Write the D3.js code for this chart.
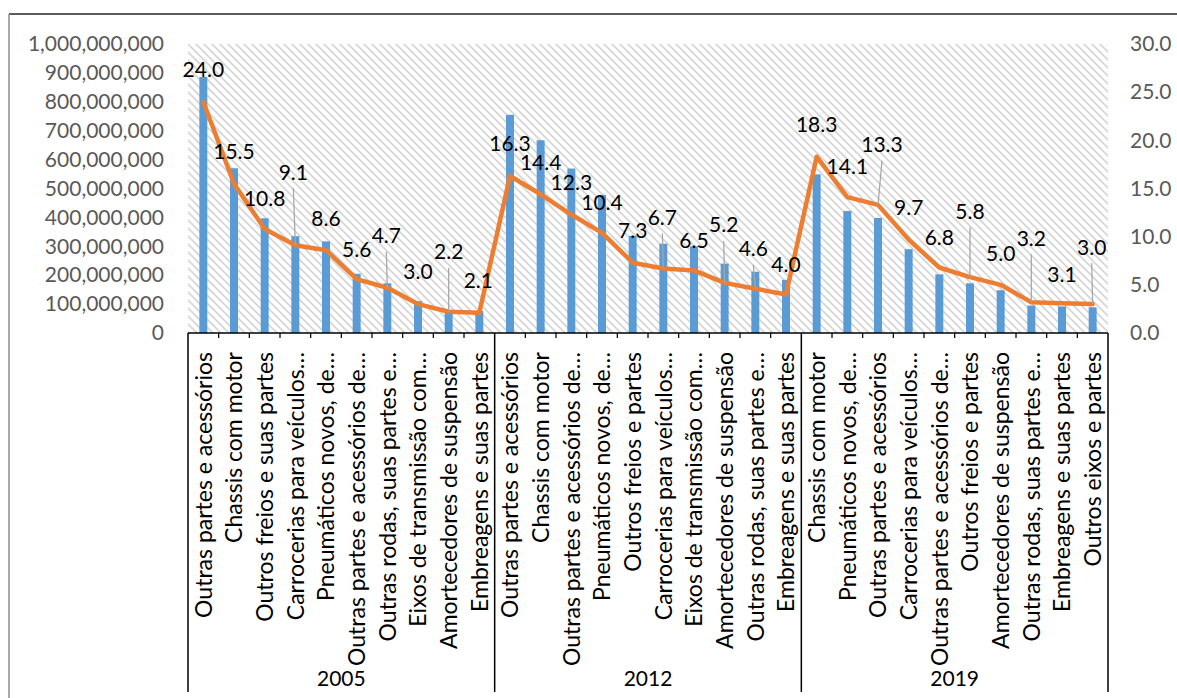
<!DOCTYPE html>
<html>
<head>
<meta charset="utf-8">
<script src="https://cdn.jsdelivr.net/npm/d3@7"></script>
<style>
  body { margin: 0; background: #fff; }
  svg { display: block; }
  text { font-family: Lato, "Noto Sans", sans-serif; }
</style>
</head>
<body>
<svg id="chart" width="1177" height="698"></svg>
<script>
// ---- data ---------------------------------------------------------------
const years = ["2005", "2012", "2019"];

const categories2005 = [
  "Outras partes e acessórios", "Chassis com motor", "Outros freios e suas partes",
  "Carrocerias para veículos…", "Pneumáticos novos, de…", "Outras partes e acessórios de…",
  "Outras rodas, suas partes e…", "Eixos de transmissão com…", "Amortecedores de suspensão",
  "Embreagens e suas partes"
];
const categories2012 = [
  "Outras partes e acessórios", "Chassis com motor", "Outras partes e acessórios de…",
  "Pneumáticos novos, de…", "Outros freios e partes", "Carrocerias para veículos…",
  "Eixos de transmissão com…", "Amortecedores de suspensão", "Outras rodas, suas partes e…",
  "Embreagens e suas partes"
];
const categories2019 = [
  "Chassis com motor", "Pneumáticos novos, de…", "Outras partes e acessórios",
  "Carrocerias para veículos…", "Outras partes e acessórios de…", "Outros freios e partes",
  "Amortecedores de suspensão", "Outras rodas, suas partes e…", "Embreagens e suas partes",
  "Outros eixos e partes"
];

// bar series (left axis)
const value2005 = [886e6, 570e6, 397e6, 335e6, 317e6, 205e6, 172e6, 110e6, 80e6, 76e6];
const value2012 = [755e6, 667e6, 569e6, 478e6, 336e6, 309e6, 300e6, 240e6, 212e6, 184e6];
const value2019 = [549e6, 422e6, 398e6, 290e6, 203e6, 172e6, 148e6, 95e6, 92e6, 89e6];

// line series, share in % (right axis)
const share2005 = [24.0, 15.5, 10.8, 9.1, 8.6, 5.6, 4.7, 3.0, 2.2, 2.1];
const share2012 = [16.3, 14.4, 12.3, 10.4, 7.3, 6.7, 6.5, 5.2, 4.6, 4.0];
const share2019 = [18.3, 14.1, 13.3, 9.7, 6.8, 5.8, 5.0, 3.2, 3.1, 3.0];

const leftTicks = d3.range(0, 1000000001, 100000000);
const rightTicks = [0, 5, 10, 15, 20, 25, 30];

// label placement: lift above the point (px) and horizontal nudge
const labelLift = [
  32, 32, 31, 73, 32, 30, 52, 33, 60, 32,
  33, 32, 32, 30, 32, 51, 30, 58, 40, 30,
  32, 31, 60, 32, 30, 66, 31, 64, 29, 57
];
const labelNudge = [
  0, 0, 0, -2, 0, 0, -1, 0, 0, -1,
  0, 0, 0, 0, 0, -1, 0, -1, -2, 0,
  0, 0, 4, 0, 0, 0, 0, 0, 0, -1
];

// ---- assemble rows ------------------------------------------------------
const groups = [
  { year: years[0], cats: categories2005, vals: value2005, shares: share2005 },
  { year: years[1], cats: categories2012, vals: value2012, shares: share2012 },
  { year: years[2], cats: categories2019, vals: value2019, shares: share2019 }
];
const rows = [];
groups.forEach(g => g.cats.forEach((c, i) => rows.push({
  key: g.year + "|" + i, year: g.year, cat: c, value: g.vals[i], share: g.shares[i]
})));
rows.forEach((r, i) => { r.lift = labelLift[i]; r.nudge = labelNudge[i]; });

// ---- layout -------------------------------------------------------------
const plot = { left: 188, right: 1108, top: 44, bottom: 333 };
const svg = d3.select("#chart");

const x = d3.scaleBand().domain(rows.map(r => r.key)).range([plot.left, plot.right]).padding(0);
const yL = d3.scaleLinear().domain([0, 1000000000]).range([plot.bottom, plot.top]);
const yR = d3.scaleLinear().domain([0, 30]).range([plot.bottom, plot.top]);
const cx = k => x(k) + x.bandwidth() / 2;

// chart frame
svg.append("line").attr("x1", 9).attr("x2", 1177).attr("y1", 14).attr("y2", 14)
  .attr("stroke", "#262626").attr("stroke-width", 1.5);
svg.append("line").attr("x1", 9).attr("x2", 9).attr("y1", 14).attr("y2", 698)
  .attr("stroke", "#8c8c8c").attr("stroke-width", 1.5);

// hatched plot background
const defs = svg.append("defs");
const pat = defs.append("pattern").attr("id", "hatch")
  .attr("patternUnits", "userSpaceOnUse").attr("width", 8).attr("height", 8);
pat.append("path").attr("d", "M-2,-2L10,10M-2,6L2,10M6,-2L10,2")
  .attr("stroke", "#d6d6d6").attr("stroke-width", 1.8).attr("fill", "none");
svg.append("rect")
  .attr("x", plot.left).attr("y", plot.top)
  .attr("width", plot.right - plot.left).attr("height", plot.bottom - plot.top)
  .attr("fill", "url(#hatch)");

// axes
const axisText = sel => sel.selectAll("text")
  .attr("fill", "#595959").style("font-size", "21px").style("font-family", "Lato, sans-serif");

svg.append("g").attr("transform", `translate(${plot.left},0)`)
  .call(d3.axisLeft(yL).tickValues(leftTicks).tickFormat(d3.format(",")).tickSize(0).tickPadding(24))
  .call(g => g.select(".domain").remove())
  .call(axisText);

svg.append("g").attr("transform", `translate(${plot.right},0)`)
  .call(d3.axisRight(yR).tickValues(rightTicks).tickFormat(d3.format(".1f")).tickSize(0).tickPadding(22))
  .call(g => g.select(".domain").remove())
  .call(axisText);

// bars
const barW = x.bandwidth() * 0.26;
svg.append("g").selectAll("rect").data(rows).join("rect")
  .attr("x", d => cx(d.key) - barW / 2)
  .attr("y", d => yL(d.value))
  .attr("width", barW)
  .attr("height", d => yL(0) - yL(d.value))
  .attr("fill", "#5B9BD5");

// category axis: baseline, ticks, group separators
const axisG = svg.append("g");
axisG.append("line").attr("x1", plot.left).attr("x2", plot.right)
  .attr("y1", plot.bottom).attr("y2", plot.bottom)
  .attr("stroke", "#000").attr("stroke-width", 1.5);

const groupStarts = years.map(yr => x(yr + "|0"));
rows.forEach((r, i) => {
  if (i % 10 !== 0) {
    axisG.append("line").attr("x1", x(r.key)).attr("x2", x(r.key))
      .attr("y1", plot.bottom).attr("y2", plot.bottom + 5)
      .attr("stroke", "#000").attr("stroke-width", 1.25);
  }
});
groupStarts.concat([plot.right]).forEach(gx => {
  axisG.append("line").attr("x1", gx).attr("x2", gx)
    .attr("y1", plot.bottom).attr("y2", 692)
    .attr("stroke", "#000").attr("stroke-width", 1.5);
});

// category labels (rotated)
svg.append("g").selectAll("text").data(rows).join("text")
  .attr("transform", d => `translate(${cx(d.key)},352) rotate(-90)`)
  .attr("text-anchor", "end")
  .attr("dy", "0.36em")
  .style("font-size", "23px")
  .attr("fill", "#000")
  .text(d => d.cat);

// year labels
svg.append("g").selectAll("text").data(years).join("text")
  .attr("x", (yr, i) => {
    const a = groupStarts[i];
    const b = i < years.length - 1 ? groupStarts[i + 1] : plot.right;
    return (a + b) / 2;
  })
  .attr("y", 678)
  .attr("dy", "0.36em")
  .attr("text-anchor", "middle")
  .style("font-size", "21px")
  .attr("fill", "#000")
  .text(d => d);

// share line
const line = d3.line().x(d => cx(d.key)).y(d => yR(d.share));
svg.append("path").datum(rows)
  .attr("d", line)
  .attr("fill", "none")
  .attr("stroke", "#ED7D31")
  .attr("stroke-width", 4.5)
  .attr("stroke-linejoin", "round")
  .attr("stroke-linecap", "round");

// leader lines for labels lifted away from their point
svg.append("g").selectAll("line").data(rows.filter(d => d.lift >= 40)).join("line")
  .attr("x1", d => cx(d.key) + d.nudge)
  .attr("y1", d => yR(d.share) - d.lift + 16)
  .attr("x2", d => cx(d.key))
  .attr("y2", d => yR(d.share))
  .attr("stroke", "#A6A6A6")
  .attr("stroke-width", 1.25);

// value labels
svg.append("g").selectAll("text").data(rows).join("text")
  .attr("x", d => cx(d.key) + d.nudge)
  .attr("y", d => yR(d.share) - d.lift)
  .attr("dy", "0.36em")
  .attr("text-anchor", "middle")
  .style("font-size", "21px")
  .attr("fill", "#000")
  .text(d => d3.format(".1f")(d.share));
</script>
</body>
</html>
